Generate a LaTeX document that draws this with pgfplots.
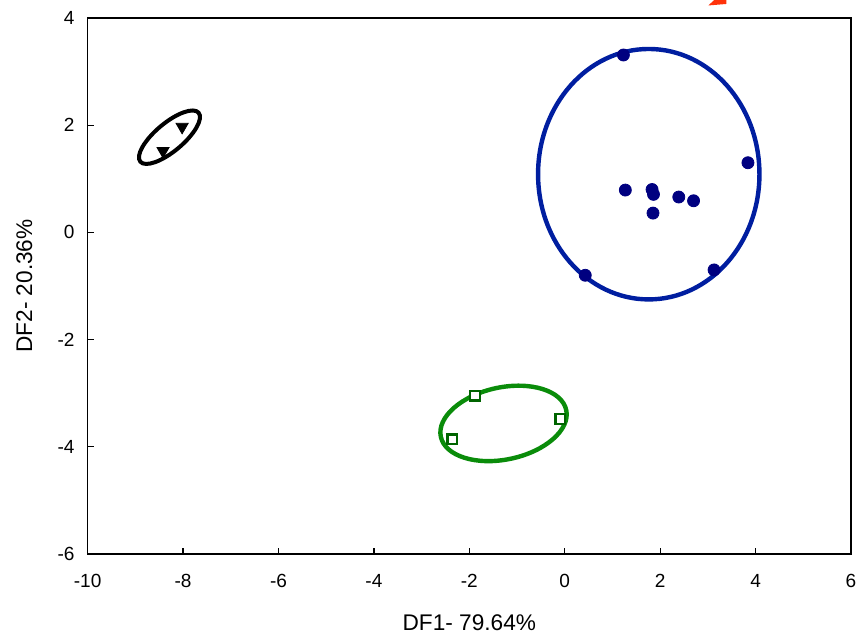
\documentclass[border=0pt]{standalone}
\usepackage{pgfplots}
\pgfplotsset{compat=1.18}
\usepackage{fontspec}
\setmainfont{Liberation Sans}
\definecolor{grpblue}{RGB}{0,30,160}
\definecolor{markblue}{RGB}{0,0,128}
\definecolor{grpgreen}{RGB}{10,140,10}
\definecolor{markgreen}{RGB}{0,100,0}
\definecolor{redmark}{RGB}{255,50,10}

\begin{document}
\begin{tikzpicture}
\begin{axis}[
  scale only axis, width=381pt, height=267.5pt,
  xmin=-10, xmax=6, ymin=-6, ymax=4,
  xtick={-10,-8,...,6}, ytick={-6,-4,...,4},
  tick align=inside, tick pos=left, major tick length=3pt,
  axis line style={line width=0.8pt},
  every tick/.style={black, line width=0.6pt},
  tick label style={font=\fontsize{9.5}{11}\selectfont},
  /pgf/number format/assume math mode=true,
  xticklabel style={yshift=-6.5pt},
  yticklabel style={xshift=-3pt},
  xlabel={DF1- 79.64\%}, ylabel={DF2- 20.36\%},
  label style={font=\fontsize{11.3}{13}\selectfont},
  xlabel style={at={(axis description cs:0.5,-0.142)}, anchor=base},
  ylabel style={at={(axis description cs:-0.0728,0.5)}, anchor=base},
  clip=false,
]
% group ellipses
\draw[grpblue, line width=2.2pt] (axis cs:1.761,1.086) ellipse [x radius=55.25pt, y radius=62.5pt];
\draw[grpgreen, line width=2.2pt] (axis cs:-1.283,-3.564) ellipse [x radius=32pt, y radius=18pt, rotate=12];
\draw[black, line width=2pt] (axis cs:-8.285,1.776) ellipse [x radius=19pt, y radius=7pt, rotate=40];

% group 1 (triangles)
\addplot[only marks, mark=triangle*, mark size=3.5pt, mark options={rotate=180, fill=black, draw=black}]
  coordinates {(-8.42,1.52) (-8.02,1.97)};
% group 2 (filled circles)
\addplot[only marks, mark=*, mark size=3pt, mark options={fill=markblue, draw=markblue}]
  coordinates {(1.23,3.31) (3.84,1.30) (1.27,0.79) (1.83,0.80) (1.86,0.71)
               (2.39,0.66) (2.70,0.59) (1.85,0.36) (0.43,-0.80) (3.13,-0.70)};
% group 3 (open squares)
\addplot[only marks, mark=square*, mark size=2.4pt, mark options={fill=white, draw=markgreen, line width=1.2pt}]
  coordinates {(-1.88,-3.05) (-0.09,-3.48) (-2.36,-3.86)};

% red stroke end at the top edge
\fill[redmark] (axis cs:3.008,4.234) -- (axis cs:3.386,4.262) -- (axis cs:3.386,4.336) -- (axis cs:3.134,4.336) -- cycle;
\end{axis}
\pgfresetboundingbox
\path[use as bounding box] ([shift={(-43.75pt,-41.5pt)}]current axis.south west) rectangle ([shift={(2.5pt,9pt)}]current axis.north east);
\end{tikzpicture}
\end{document}
